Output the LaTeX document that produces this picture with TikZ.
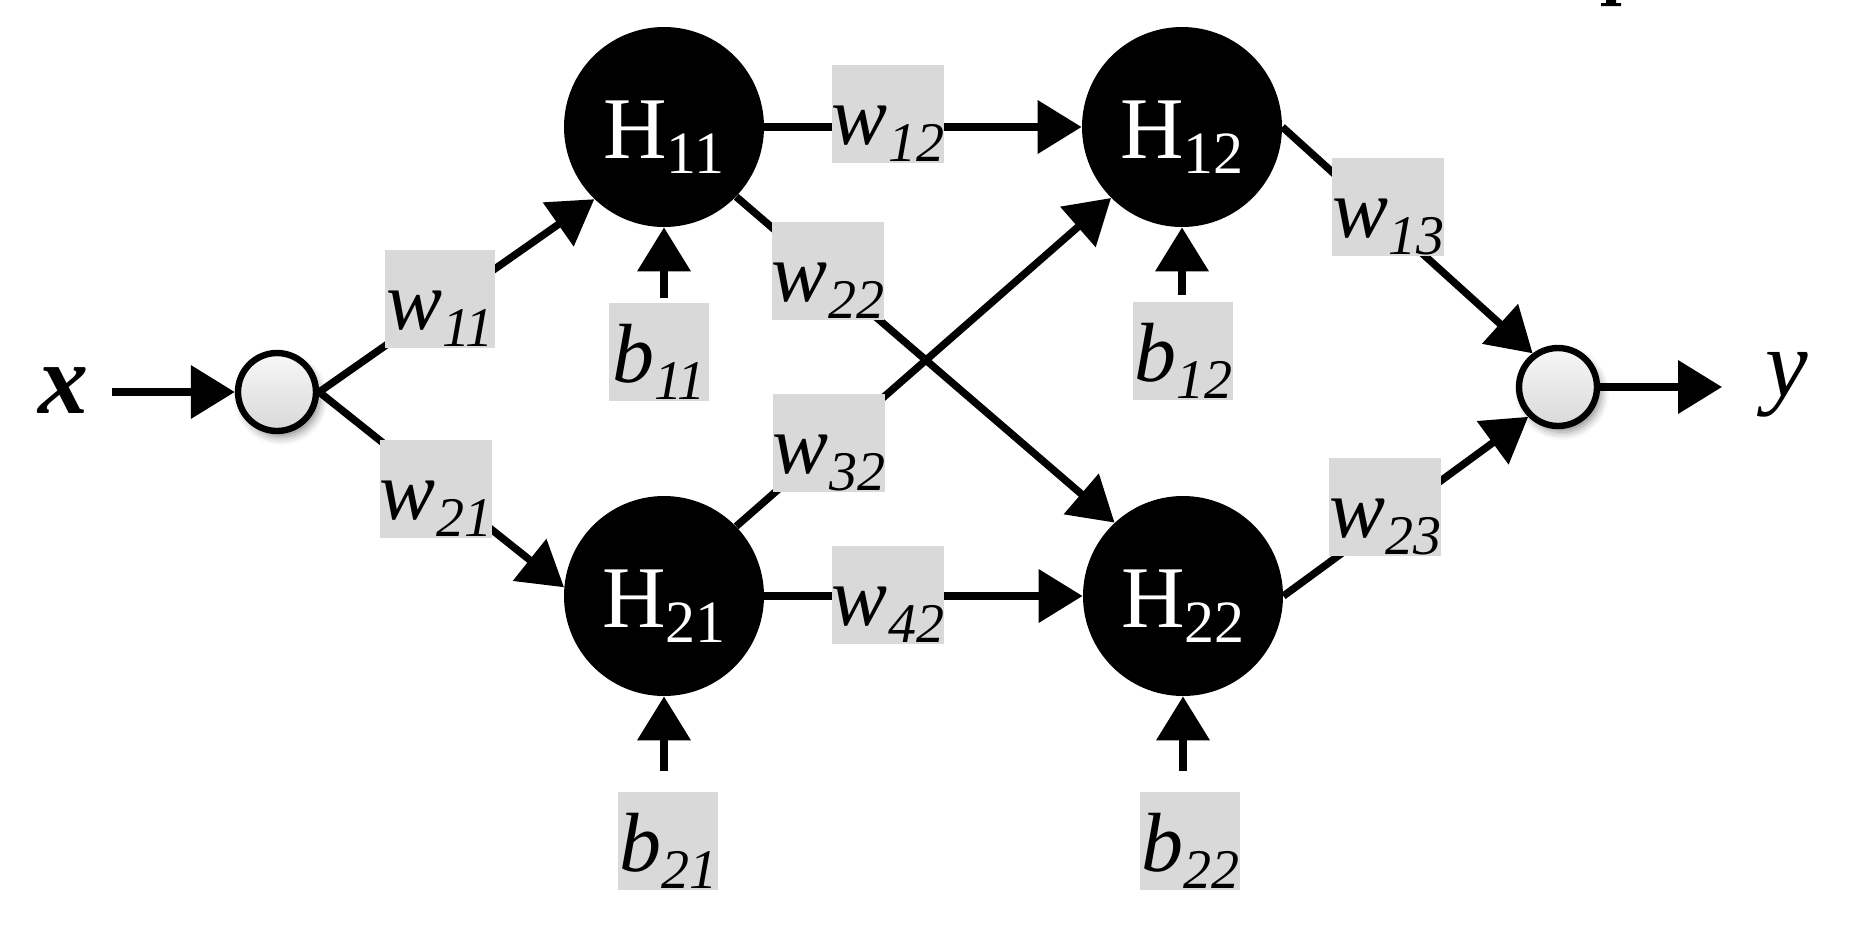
\documentclass[tikz,border=0pt]{standalone}
\usepackage{fontspec}
\setmainfont{Liberation Serif}
\usetikzlibrary{arrows.meta,shadows.blur,backgrounds}
\definecolor{labgray}{HTML}{D9D9D9}
\newcommand\sublab[2]{#1\raisebox{-8.5pt}{\fontsize{28}{28}\selectfont #2}}
\newcommand\hsub[1]{H\raisebox{-7.5pt}{\fontsize{30}{30}\selectfont #1}}
\begin{document}
\begin{tikzpicture}[x=0.5pt,y=-0.5pt,
  hid/.style={circle, fill=black, minimum size=100pt, inner sep=0pt, text=white,
    text height=40pt, text depth=9pt, font=\fontsize{44}{44}\selectfont},
  io/.style={circle, draw=black, line width=3.2pt, minimum size=39pt, inner sep=0pt,
    top color=gray!6, bottom color=gray!30,
    blur shadow={shadow xshift=2pt, shadow yshift=-3pt, shadow blur radius=4pt, shadow opacity=45}},
  lab/.style={fill=labgray, inner sep=0pt, minimum width=55pt, minimum height=49pt,
    text height=39.5pt, text depth=9.5pt, font=\itshape\fontsize{42}{42}\selectfont},
  blab/.style={lab, minimum width=50pt},
  arr/.style={line width=3.7pt, -{Triangle[length=22pt,width=26pt]}},
]
\useasboundingbox (0,0) rectangle (1852,928);

% hidden neurons
\node[hid] (H11) at (664,127) {\hsub{11}};
\node[hid] (H12) at (1182,127) {\hsub{12}};
\node[hid] (H21) at (664,596) {\hsub{21}};
\node[hid] (H22) at (1183,596) {\hsub{22}};

% input / output neurons
\node[io] (in) at (277,392) {};
\node[io] (out) at (1558,387) {};

% x and y
\node[font=\bfseries\itshape\fontsize{50}{50}\selectfont, anchor=base, inner sep=0pt] (xlab) at (64,413) {x};
\node[font=\itshape\fontsize{48}{48}\selectfont, anchor=base, inner sep=0pt] (ylab) at (1787,396) {y};
\coordinate (xstart) at (112,392);
\coordinate (yend) at (1722,387);

% weight labels
\node[lab] (w11) at (440,299) {\sublab{w}{11}};
\node[lab] (w21) at (436,489) {\sublab{w}{21}};
\node[lab] (w12) at (888,114) {\sublab{w}{12}};
\node[lab] (w22) at (828,271) {\sublab{w}{22}};
\node[lab] (w32) at (829,443) {\sublab{w}{32}};
\node[lab] (w42) at (888,595) {\sublab{w}{42}};
\node[lab] (w13) at (1388,207) {\sublab{w}{13}};
\node[lab] (w23) at (1385,507) {\sublab{w}{23}};

% bias labels
\node[blab] (b11) at (659,352) {\sublab{b}{11}};
\node[blab] (b12) at (1183,351) {\sublab{b}{12}};
\node[blab] (b21) at (668,841) {\sublab{b}{21}};
\node[blab] (b22) at (1190,841) {\sublab{b}{22}};

% cropped glyph fragment at the top edge
\fill (1601,6) -- (1621,6) -- (1621,3) -- (1616,3) -- (1616,0) -- (1606,0) -- (1606,3) -- (1601,3) -- cycle;

\begin{pgfonlayer}{background}
\draw[arr] (xstart) -- (in.west);
\draw[arr] (in.east) -- (H11.226);
\draw[arr] (in.east) -- (H21.175);
\draw[arr] (H11.east) -- (H12.west);
\draw[arr] (H11.-44) -- (H22.133);
\draw[arr] (H21.44) -- (H12.225);
\draw[arr] (H21.east) -- (H22.west);
\draw[arr] (H12.east) -- (out.127);
\draw[arr] (H22.east) -- (out.225);
\draw[arr] (out.east) -- (yend);
\draw[arr, shorten <=2.5pt] (H11.south |- b11.north) -- (H11.south);
\draw[arr, shorten <=3.5pt] (H12.south |- b12.north) -- (H12.south);
\draw[arr, shorten <=10.5pt] (H21.south |- b21.north) -- (H21.south);
\draw[arr, shorten <=10.5pt] (H22.south |- b22.north) -- (H22.south);
\end{pgfonlayer}
\end{tikzpicture}
\end{document}
